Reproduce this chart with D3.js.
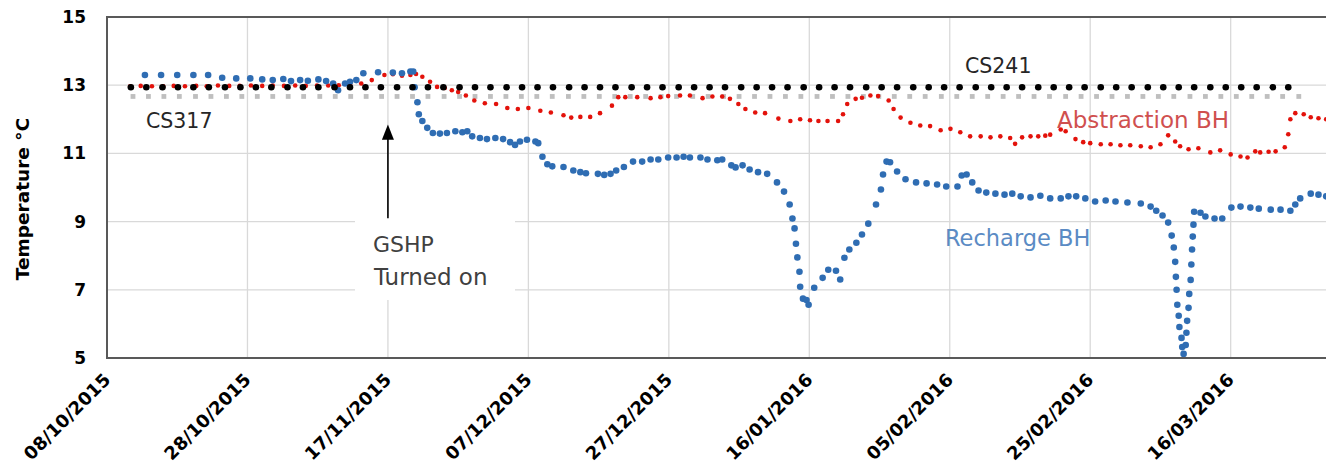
<!DOCTYPE html>
<html>
<head>
<meta charset="utf-8">
<script src="https://cdn.jsdelivr.net/npm/d3@7"></script>
<style>
  body { margin: 0; background: #fff; }
  svg { display: block; }
</style>
</head>
<body>
<div id="chart"></div>
<script>
// borehole temperatures, days counted from 08/10/2015
var startDate = "08/10/2015";
var endDate = "30/03/2016";
var tickLabels = ["08/10/2015", "28/10/2015", "17/11/2015", "07/12/2015", "27/12/2015",
    "16/01/2016", "05/02/2016", "25/02/2016", "16/03/2016"];
var yTicks = [5, 7, 9, 11, 13, 15];

var cs241Day = [3.4, 5.6, 7.9, 10.1, 12.3, 14.5, 16.8, 19.0, 21.2, 23.4, 25.7, 27.9, 30.1, 32.4, 34.6,
    36.8, 39.0, 41.3, 43.5, 45.7, 47.9, 50.2, 52.4, 54.6, 56.9, 59.1, 61.3, 63.5, 65.8, 68.0, 70.2,
    72.4, 74.7, 76.9, 79.1, 81.4, 83.6, 85.8, 88.0, 90.3, 92.5, 94.7, 96.9, 99.2, 101.4, 103.6,
    105.8, 108.1, 110.3, 112.5, 114.8, 117.0, 119.2, 121.4, 123.7, 125.9, 128.1, 130.3, 132.6,
    134.8, 137.0, 139.2, 141.5, 143.7, 145.9, 148.2, 150.4, 152.6, 154.8, 157.1, 159.3, 161.5,
    163.7, 166.0, 168.2];
var cs241Temp = [12.94, 12.94, 12.94, 12.94, 12.94, 12.94, 12.94, 12.94, 12.94, 12.94, 12.94, 12.94,
    12.94, 12.94, 12.94, 12.94, 12.94, 12.94, 12.94, 12.94, 12.94, 12.94, 12.94, 12.94, 12.94, 12.94,
    12.94, 12.94, 12.94, 12.94, 12.94, 12.94, 12.94, 12.94, 12.94, 12.94, 12.94, 12.94, 12.94, 12.94,
    12.94, 12.94, 12.94, 12.94, 12.94, 12.94, 12.94, 12.94, 12.94, 12.94, 12.94, 12.94, 12.94, 12.94,
    12.94, 12.94, 12.94, 12.94, 12.94, 12.94, 12.94, 12.94, 12.94, 12.94, 12.94, 12.94, 12.94, 12.94,
    12.94, 12.94, 12.94, 12.94, 12.94, 12.94, 12.94];

var cs317Day = [3.7, 5.9, 8.1, 10.3, 12.6, 14.8, 17.0, 19.2, 21.4, 23.6, 25.8, 28.0, 30.3, 32.5, 34.7,
    36.9, 39.1, 41.3, 43.5, 45.7, 48.0, 50.2, 52.4, 54.6, 56.8, 59.0, 61.2, 63.4, 65.7, 67.9, 70.1,
    72.3, 74.5, 76.7, 78.9, 81.1, 83.4, 85.6, 87.8, 90.0, 92.2, 94.4, 96.6, 98.8, 101.1, 103.3, 105.5,
    107.7, 109.9, 112.1, 114.3, 116.5, 118.8, 121.0, 123.2, 125.4, 127.6, 129.8, 132.0, 134.2, 136.5,
    138.7, 140.9, 143.1, 145.3, 147.5, 149.7, 151.9, 154.2, 156.4, 158.6, 160.8, 163.0, 165.2, 167.4,
    169.7];
var cs317Temp = [12.67, 12.67, 12.67, 12.67, 12.67, 12.67, 12.67, 12.67, 12.67, 12.67, 12.67, 12.67,
    12.67, 12.67, 12.67, 12.67, 12.67, 12.67, 12.67, 12.67, 12.67, 12.67, 12.67, 12.67, 12.67, 12.67,
    12.67, 12.67, 12.67, 12.67, 12.67, 12.67, 12.67, 12.67, 12.67, 12.67, 12.67, 12.67, 12.67, 12.67,
    12.67, 12.67, 12.67, 12.67, 12.67, 12.67, 12.67, 12.67, 12.67, 12.67, 12.67, 12.67, 12.67, 12.67,
    12.67, 12.67, 12.67, 12.67, 12.67, 12.67, 12.67, 12.67, 12.67, 12.67, 12.67, 12.67, 12.67, 12.67,
    12.67, 12.67, 12.67, 12.67, 12.67, 12.67, 12.67, 12.67];

var abstractionDay = [3.3, 4.8, 6.4, 8.0, 9.5, 11.1, 12.7, 14.2, 15.8, 17.4, 18.9, 20.5, 22.1, 23.6,
    25.2, 26.8, 28.3, 29.9, 31.5, 33.0, 34.6, 36.2, 37.7, 39.5, 40.7, 42.0, 43.2, 44.0, 44.9, 46.0,
    47.0, 48.1, 49.1, 50.0, 51.1, 52.3, 53.8, 55.4, 57.0, 58.5, 60.0, 61.7, 63.2, 65.0, 66.1, 67.4,
    68.8, 70.2, 71.9, 72.8, 73.8, 75.5, 77.4, 78.8, 79.9, 81.6, 83.0, 84.8, 86.2, 87.6, 88.7, 89.9,
    90.9, 92.3, 93.7, 95.6, 97.3, 98.7, 100.1, 101.3, 102.6, 104.1, 104.8, 105.4, 106.6, 107.5, 108.7,
    109.8, 111.3, 112.0, 113.0, 114.4, 115.8, 117.2, 118.7, 120.1, 121.5, 122.9, 124.4, 125.8, 127.2,
    128.6, 129.3, 130.3, 131.5, 132.6, 133.6, 134.3, 135.8, 136.5, 137.9, 139.0, 140.0, 141.5, 142.9,
    144.3, 145.7, 147.2, 148.6, 150.0, 151.1, 152.1, 152.8, 154.0, 155.4, 157.1, 158.5, 160.0, 161.4,
    162.4, 163.5, 164.2, 165.4, 166.4, 167.7, 168.2, 168.5, 169.2, 170.4, 171.4, 172.5, 173.6];
var abstractionTemp = [12.97, 12.98, 12.97, 12.97, 12.98, 12.97, 12.98, 12.97, 12.99, 12.98, 12.98,
    12.99, 12.98, 12.99, 12.98, 12.99, 12.98, 12.99, 12.99, 13.0, 13.02, 13.05, 13.15, 13.3, 13.32,
    13.28, 13.3, 13.33, 13.25, 13.1, 12.95, 12.92, 12.85, 12.8, 12.7, 12.55, 12.47, 12.45, 12.33, 12.3,
    12.33, 12.25, 12.2, 12.12, 12.05, 12.07, 12.07, 12.18, 12.4, 12.65, 12.65, 12.65, 12.62, 12.65,
    12.68, 12.7, 12.7, 12.62, 12.67, 12.67, 12.6, 12.45, 12.3, 12.2, 12.18, 12.02, 11.95, 12.0, 11.97,
    11.95, 11.95, 11.95, 12.15, 12.45, 12.6, 12.63, 12.7, 12.68, 12.55, 12.3, 12.05, 11.9, 11.82, 11.8,
    11.68, 11.72, 11.62, 11.5, 11.5, 11.47, 11.5, 11.45, 11.28, 11.47, 11.5, 11.5, 11.52, 11.55, 11.7,
    11.65, 11.42, 11.33, 11.3, 11.27, 11.27, 11.24, 11.24, 11.21, 11.18, 11.27, 11.53, 11.35, 11.21,
    11.12, 11.15, 11.03, 11.09, 10.97, 10.91, 10.88, 11.06, 11.03, 11.05, 11.06, 11.18, 11.56, 12.0,
    12.18, 12.15, 12.06, 12.03, 12.0];

var rechargeDay = [5.4, 7.7, 10.0, 12.3, 14.4, 16.4, 18.4, 20.4, 22.1, 23.6, 25.1, 26.2, 27.5, 28.6,
    30.1, 31.2, 32.2, 32.9, 33.9, 34.6, 35.5, 36.5, 38.6, 40.7, 42.0, 43.2, 43.6, 43.8, 44.2, 44.4,
    44.9, 45.6, 46.4, 47.4, 48.4, 49.6, 50.6, 51.3, 52.0, 53.1, 54.1, 55.3, 56.4, 57.4, 58.1, 58.8,
    59.8, 61.0, 61.4, 62.0, 62.7, 63.4, 65.0, 66.4, 67.4, 68.2, 69.9, 70.8, 71.7, 72.5, 73.6, 74.9,
    76.2, 77.4, 78.5, 79.9, 81.1, 82.1, 83.0, 84.5, 85.5, 86.9, 87.6, 88.9, 89.5, 90.5, 91.5, 92.7,
    94.0, 95.4, 96.4, 97.2, 97.6, 97.9, 98.1, 98.3, 98.6, 98.7, 99.1, 99.6, 99.9, 100.7, 101.9, 102.7,
    103.8, 104.4, 105.0, 105.7, 106.7, 107.5, 108.4, 109.5, 110.2, 110.5, 111.0, 111.5, 112.5, 113.7,
    115.2, 116.7, 118.2, 119.5, 121.1, 121.7, 122.4, 123.2, 124.1, 125.2, 126.5, 127.8, 128.9, 130.1,
    131.5, 132.9, 134.3, 135.8, 136.9, 138.0, 139.3, 140.7, 142.2, 143.6, 145.3, 147.2, 148.6, 149.4,
    150.3, 151.1, 151.6, 151.9, 152.1, 152.2, 152.3, 152.4, 152.6, 152.7, 153.0, 153.1, 153.3, 153.6,
    153.7, 153.8, 154.0, 154.1, 154.3, 154.4, 154.5, 154.6, 154.7, 154.8, 155.7, 156.4, 157.7, 158.8,
    160.1, 161.4, 162.8, 164.0, 165.7, 167.1, 168.5, 169.2, 169.9, 171.4, 172.5, 173.6];
var rechargeTemp = [13.3, 13.3, 13.3, 13.3, 13.3, 13.22, 13.2, 13.2, 13.17, 13.15, 13.18, 13.12, 13.15,
    13.13, 13.17, 13.12, 13.05, 12.85, 13.05, 13.1, 13.15, 13.35, 13.38, 13.37, 13.35, 13.4, 13.4,
    12.94, 12.5, 12.15, 11.95, 11.75, 11.6, 11.58, 11.6, 11.65, 11.62, 11.65, 11.5, 11.45, 11.42, 11.45,
    11.42, 11.33, 11.25, 11.35, 11.4, 11.35, 11.3, 10.9, 10.68, 10.62, 10.6, 10.5, 10.45, 10.42, 10.4,
    10.37, 10.4, 10.5, 10.6, 10.76, 10.76, 10.82, 10.82, 10.88, 10.88, 10.9, 10.88, 10.88, 10.82, 10.8,
    10.82, 10.65, 10.59, 10.65, 10.53, 10.45, 10.4, 10.15, 9.88, 9.5, 9.09, 8.8, 8.35, 7.95, 7.53, 7.09,
    6.74, 6.7, 6.56, 7.06, 7.35, 7.59, 7.56, 7.3, 7.94, 8.18, 8.38, 8.62, 8.94, 9.5, 9.94, 10.38, 10.76,
    10.74, 10.47, 10.24, 10.15, 10.12, 10.09, 10.03, 10.03, 10.35, 10.38, 10.15, 9.91, 9.85, 9.82, 9.79,
    9.82, 9.74, 9.71, 9.76, 9.68, 9.68, 9.74, 9.74, 9.68, 9.59, 9.62, 9.59, 9.56, 9.53, 9.44, 9.32,
    9.18, 8.97, 8.59, 8.24, 7.82, 7.38, 7.0, 6.56, 6.24, 5.91, 5.59, 5.32, 5.12, 5.38, 5.74, 6.09, 6.47,
    6.88, 7.29, 7.74, 8.18, 8.56, 8.91, 9.29, 9.26, 9.15, 9.09, 9.09, 9.41, 9.44, 9.41, 9.38, 9.35,
    9.35, 9.32, 9.5, 9.68, 9.82, 9.79, 9.74];

var w = 1326, h = 469;
var margin = {top: 17, left: 107, bottom: 358, right: 1329};

var parse = d3.utcParse("%d/%m/%Y");
var t0 = parse(startDate);
function dayToDate(d) { return new Date(t0.getTime() + d * 864e5); }

var svg = d3.select("#chart").append("svg")
    .attr("width", w)
    .attr("height", h);

var xScale = d3.scaleUtc()
    .domain([t0, parse(endDate)])
    .range([margin.left, margin.right]);

var yScale = d3.scaleLinear()
    .domain([5, 15])
    .range([margin.bottom, margin.top]);

// gridlines
svg.append("g").selectAll("line.vg")
    .data(tickLabels.slice(1))
    .enter().append("line")
    .attr("x1", function(d) { return xScale(parse(d)); })
    .attr("x2", function(d) { return xScale(parse(d)); })
    .attr("y1", margin.top).attr("y2", margin.bottom)
    .attr("stroke", "#d9d9d9").attr("stroke-width", 1.3);

svg.append("g").selectAll("line.hg")
    .data(yTicks.slice(1, -1))
    .enter().append("line")
    .attr("x1", margin.left).attr("x2", margin.right)
    .attr("y1", function(d) { return yScale(d); })
    .attr("y2", function(d) { return yScale(d); })
    .attr("stroke", "#d9d9d9").attr("stroke-width", 1.3);

// white box behind the GSHP note
svg.append("rect")
    .attr("x", 355).attr("y", 216)
    .attr("width", 160).attr("height", 84)
    .attr("fill", "#fff");

function pts(days, temps) {
    return days.map(function(d, i) { return {x: dayToDate(d), y: temps[i]}; });
}

svg.append("g").selectAll("rect")
    .data(pts(cs317Day, cs317Temp))
    .enter().append("rect")
    .attr("x", function(d) { return xScale(d.x) - 2.4; })
    .attr("y", function(d) { return yScale(d.y) - 2.4; })
    .attr("width", 4.8).attr("height", 4.8)
    .attr("fill", "#bfbfbf");

svg.append("g").selectAll("circle")
    .data(pts(abstractionDay, abstractionTemp))
    .enter().append("circle")
    .attr("cx", function(d) { return xScale(d.x); })
    .attr("cy", function(d) { return yScale(d.y); })
    .attr("r", 2.3)
    .attr("fill", "#e3120b");

svg.append("g").selectAll("circle")
    .data(pts(rechargeDay, rechargeTemp))
    .enter().append("circle")
    .attr("cx", function(d) { return xScale(d.x); })
    .attr("cy", function(d) { return yScale(d.y); })
    .attr("r", 3.3)
    .attr("fill", "#2f6db3");

svg.append("g").selectAll("circle")
    .data(pts(cs241Day, cs241Temp))
    .enter().append("circle")
    .attr("cx", function(d) { return xScale(d.x); })
    .attr("cy", function(d) { return yScale(d.y); })
    .attr("r", 3.3)
    .attr("fill", "#000");

// frame
svg.append("path")
    .attr("d", "M" + margin.right + "," + margin.top + "H" + margin.left + "V" + margin.bottom + "H" + margin.right)
    .attr("fill", "none")
    .attr("stroke", "#595959")
    .attr("stroke-width", 2);

// y axis labels
var yAxis = d3.axisLeft(yScale).tickValues(yTicks).tickSize(0).tickPadding(21);
var yAxisGroup = svg.append("g")
    .attr("transform", "translate(" + [margin.left, 0] + ")")
    .call(yAxis);
yAxisGroup.select(".domain").remove();
yAxisGroup.selectAll("text")
    .attr("font-family", "DejaVu Sans").attr("font-weight", "bold")
    .attr("font-size", 17).attr("fill", "#000");

// x axis labels
var xAxis = d3.axisBottom(xScale)
    .tickValues(tickLabels.map(parse))
    .tickFormat(d3.utcFormat("%d/%m/%Y"))
    .tickSize(0);
var xAxisGroup = svg.append("g")
    .attr("transform", "translate(" + [0, margin.bottom] + ")")
    .call(xAxis);
xAxisGroup.select(".domain").remove();
xAxisGroup.selectAll("text")
    .attr("x", 0).attr("y", 0).attr("dy", 0)
    .attr("text-anchor", "end")
    .attr("transform", "translate(4,23) rotate(-45)")
    .attr("font-family", "DejaVu Sans").attr("font-weight", "bold")
    .attr("font-size", 18).attr("fill", "#000");

svg.append("text")
    .attr("transform", "translate(29,199) rotate(-90)")
    .attr("text-anchor", "middle")
    .attr("font-family", "DejaVu Sans").attr("font-weight", "bold")
    .attr("font-size", 18.5).attr("fill", "#000")
    .text("Temperature °C");

// annotations
function note(txt, x, y, size, color) {
    svg.append("text")
        .attr("x", x).attr("y", y)
        .attr("font-family", "DejaVu Sans")
        .attr("font-size", size).attr("fill", color)
        .text(txt);
}
note("CS317", 146, 128, 20.5, "#262626");
note("CS241", 965, 73, 20.5, "#262626");
note("Abstraction BH", 1057, 128, 23, "#d0504f");
note("Recharge BH", 945, 246, 22.5, "#5b8bc4");
note("GSHP", 373, 252, 22, "#404040");
note("Turned on", 374, 285, 23, "#404040");

var ax = xScale(parse("17/11/2015"));
svg.append("line")
    .attr("x1", ax).attr("x2", ax)
    .attr("y1", yScale(9.1)).attr("y2", yScale(11.5))
    .attr("stroke", "#000").attr("stroke-width", 1.6);
svg.append("path")
    .attr("d", "M" + ax + "," + yScale(11.85) + "L" + (ax - 6) + "," + yScale(11.4) + "L" + (ax + 6) + "," + yScale(11.4) + "Z")
    .attr("fill", "#000");
</script>
</body>
</html>
